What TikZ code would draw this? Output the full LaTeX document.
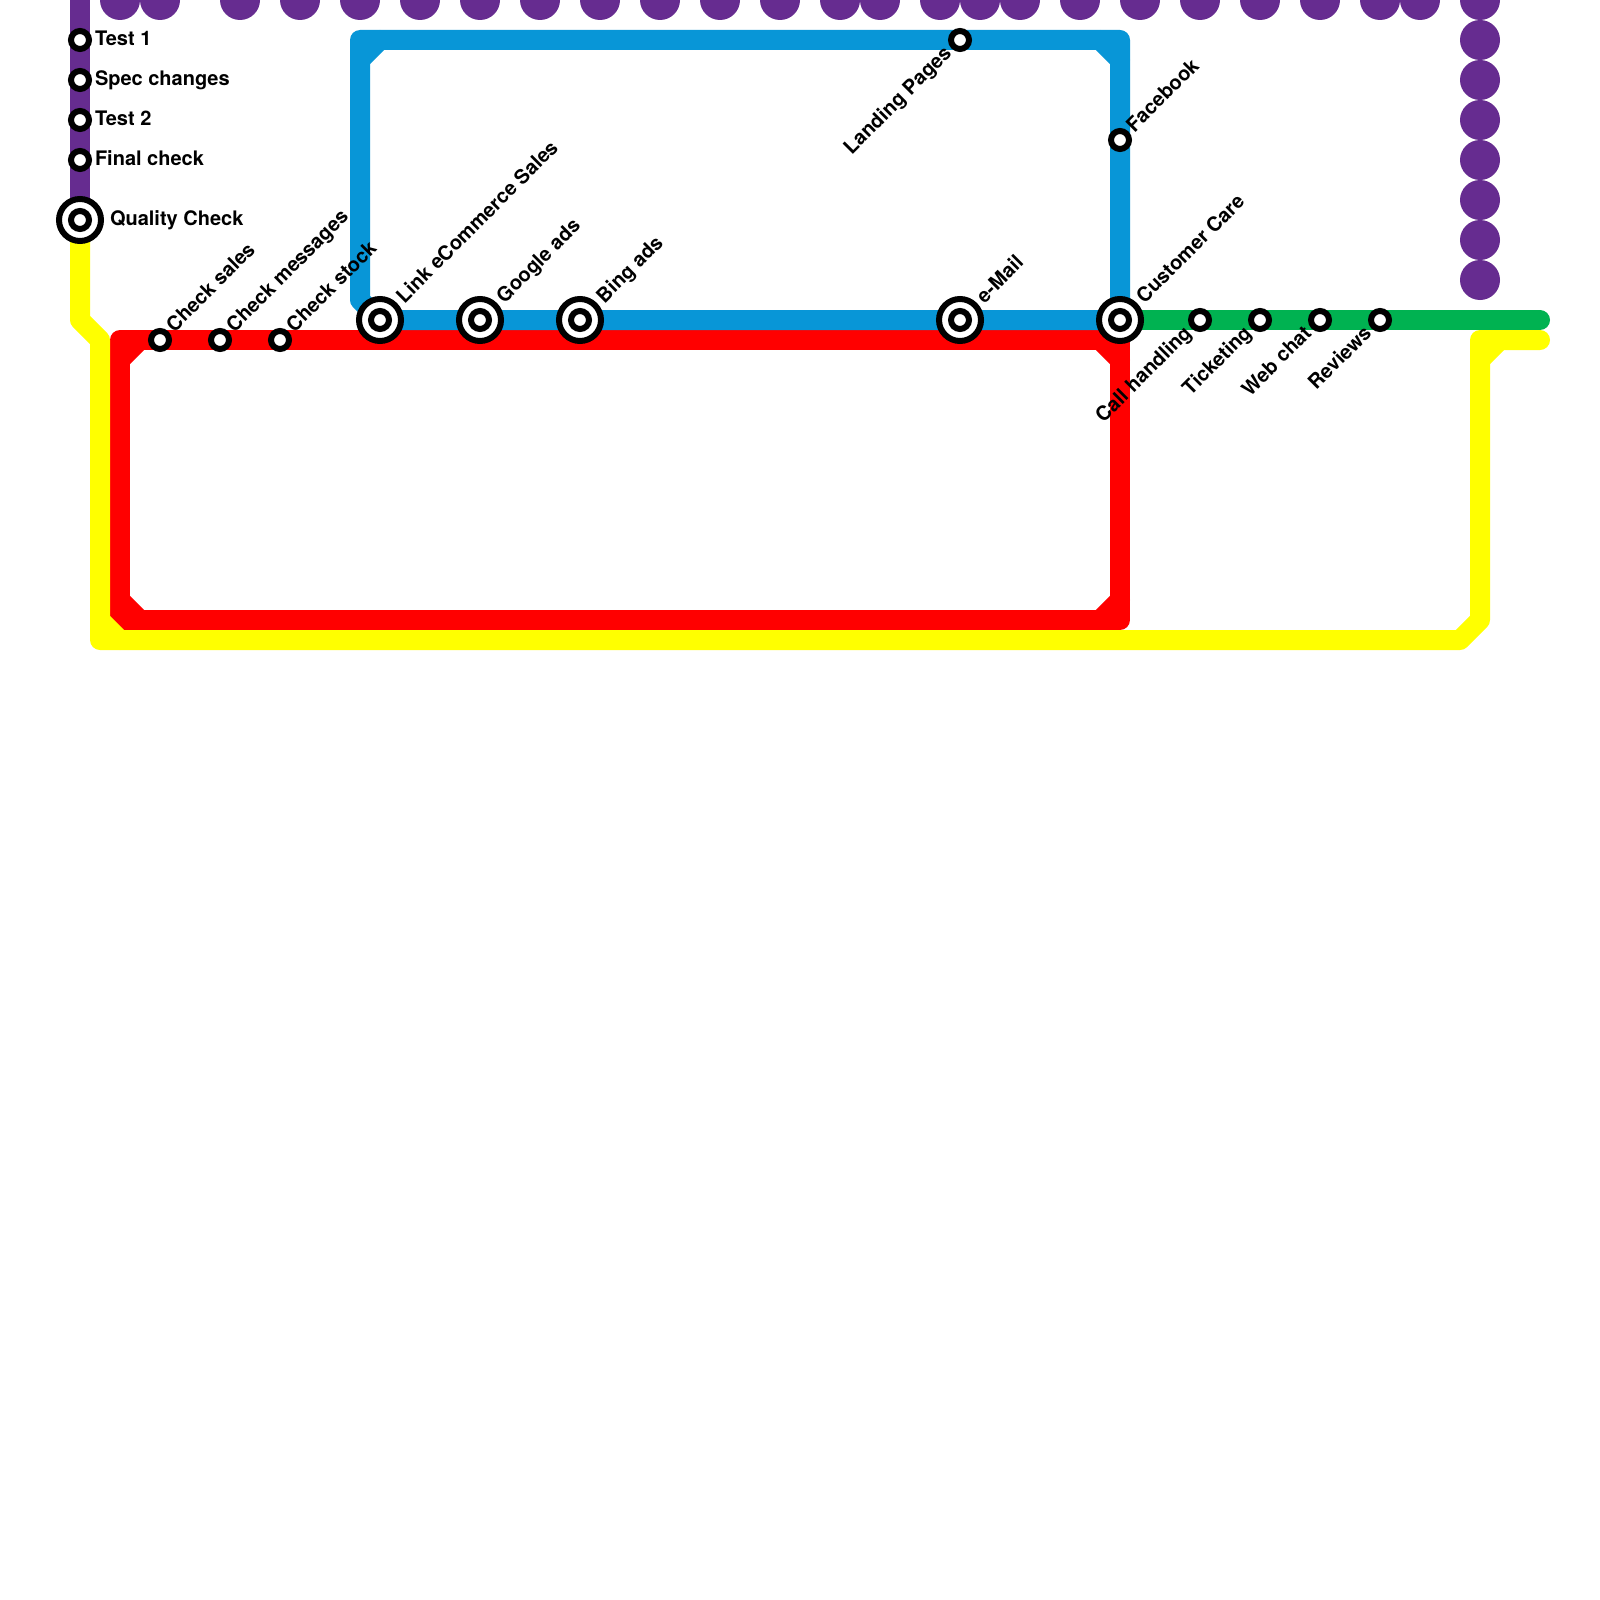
\documentclass[tikz,border=0pt]{standalone}
\usepackage{fontspec}
\setmainfont{TeX Gyre Heros}
\definecolor{lpurple}{HTML}{662C90}
\definecolor{lblue}{HTML}{0896D7}
\definecolor{lred}{HTML}{FF0000}
\definecolor{lyellow}{HTML}{FFFF00}
\definecolor{lgreen}{HTML}{00B251}
\tikzset{
  metro/.style={line width=20pt,line join=round,line cap=round},
  flatend/.style={line width=20pt,line join=round,line cap=butt},
  dotp/.style={circle,fill=lpurple,draw=none,minimum size=40pt,inner sep=0pt,outer sep=0pt},
  stn/.style={circle,fill=white,draw=black,line width=6pt,minimum size=18pt,inner sep=0pt,outer sep=0pt},
  hubouter/.style={circle,fill=white,draw=black,line width=6pt,minimum size=42pt,inner sep=0pt,outer sep=0pt},
  lab/.style={font=\fontsize{20pt}{20pt}\selectfont\bfseries,inner sep=0pt,outer sep=0pt,text=black},
  labr/.style={lab,anchor=base west},
  labup/.style={lab,anchor=base west,rotate=45},
  labdown/.style={lab,anchor=base east,rotate=45}
}
\newcommand{\hubstn}[2]{%
  \node[hubouter] (#1o) at (#2) {};
  \node[stn] (#1) at (#2) {};
}
\begin{document}
\begin{tikzpicture}[x=1pt,y=-1pt]
\useasboundingbox (0,0) rectangle (1600,1600);
\fill[white] (0,0) rectangle (1600,1600);
\clip (0,0) rectangle (1600,1600);
% bends
\coordinate (ptop) at (80,-20);
\coordinate (qc) at (80,220);
\coordinate (y1) at (80,320);
\coordinate (y2) at (100,340);
\coordinate (y3) at (100,640);
\coordinate (y3a) at (100,620);
\coordinate (y3b) at (120,640);
\coordinate (y4) at (1460,640);
\coordinate (y5) at (1480,620);
\coordinate (y6) at (1480,340);
\coordinate (y6a) at (1480,360);
\coordinate (y6b) at (1500,340);
\coordinate (y7) at (1540,340);
\coordinate (r1) at (120,340);
\coordinate (r1a) at (120,360);
\coordinate (r1b) at (140,340);
\coordinate (r2) at (1120,340);
\coordinate (r2a) at (1100,340);
\coordinate (r2b) at (1120,360);
\coordinate (r3) at (1120,620);
\coordinate (r3a) at (1120,600);
\coordinate (r3b) at (1100,620);
\coordinate (r4) at (120,620);
\coordinate (r4a) at (120,600);
\coordinate (r4b) at (140,620);
\coordinate (b1) at (360,300);
\coordinate (b2) at (380,320);
\coordinate (b3) at (1120,320);
\coordinate (b4) at (1120,40);
\coordinate (b4a) at (1100,40);
\coordinate (b4b) at (1120,60);
\coordinate (b5) at (360,40);
\coordinate (b5a) at (360,60);
\coordinate (b5b) at (380,40);
\coordinate (g1) at (1540,320);
% purple dots
\foreach \x in {120,160,240,300,360,420,480,540,600,660,720,780,840,880,940,980,1020,1080,1140,1200,1260,1320,1380,1420,1480}
  \node[dotp] (dt\x) at (\x,0) {};
\foreach \y in {40,80,120,160,200,240,280}
  \node[dotp] (dr\y) at (1480,\y) {};
% lines
\draw[flatend,lpurple] (ptop) -- (qc);
\draw[metro,lred] (r1) -- (r2) -- (r3) -- (r4) -- cycle;
\draw[metro,lred] (r1a) -- (r1b);
\draw[metro,lred] (r2a) -- (r2b);
\draw[metro,lred] (r3a) -- (r3b);
\draw[metro,lred] (r4a) -- (r4b);
\draw[metro,lblue] (b1) -- (b2) -- (b3) -- (b4) -- (b5) -- cycle;
\draw[metro,lblue] (b4a) -- (b4b);
\draw[metro,lblue] (b5a) -- (b5b);
\draw[metro,lgreen] (b3) -- (g1);
\draw[metro,lyellow] (qc) -- (y1) -- (y2) -- (y3) -- (y4) -- (y5) -- (y6) -- (y7);
\draw[metro,lyellow] (y3a) -- (y3b);
\draw[metro,lyellow] (y6a) -- (y6b);
% stations
\node[stn] (t1) at (80,40) {};
\node[stn] (sc) at (80,80) {};
\node[stn] (t2) at (80,120) {};
\node[stn] (fc) at (80,160) {};
\node[stn] (cs) at (160,340) {};
\node[stn] (cm) at (220,340) {};
\node[stn] (ck) at (280,340) {};
\node[stn] (lp) at (960,40) {};
\node[stn] (fb) at (1120,140) {};
\node[stn] (ch) at (1200,320) {};
\node[stn] (tk) at (1260,320) {};
\node[stn] (wc) at (1320,320) {};
\node[stn] (rv) at (1380,320) {};
\hubstn{qch}{80,220}
\hubstn{le}{380,320}
\hubstn{ga}{480,320}
\hubstn{ba}{580,320}
\hubstn{em}{960,320}
\hubstn{cc}{1120,320}
% labels
\node[labr] (lt1) at (95,45.5) {Test 1};
\node[labr] (lsc) at (95,85.5) {Spec changes};
\node[labr] (lt2) at (95,125.5) {Test 2};
\node[labr] (lfc) at (95,165.5) {Final check};
\node[labr] (lqc) at (110,225.5) {Quality Check};
\node[labup] (lcs) at (174.5,333) {Check sales};
\node[labup] (lcm) at (234.5,333) {Check messages};
\node[labup] (lck) at (294.5,333) {Check stock};
\node[labup] (lle) at (404.5,304) {Link eCommerce Sales};
\node[labup] (lga) at (504.5,304) {Google ads};
\node[labup] (lba) at (604.5,304) {Bing ads};
\node[labup] (lem) at (984.5,304) {e-Mail};
\node[labup] (lcc) at (1144.5,304) {Customer Care};
\node[labup] (lfb) at (1134.5,133) {Facebook};
\node[labdown] (llp) at (952.5,54.5) {Landing Pages};
\node[labdown] (lch) at (1192.5,334.5) {Call handling};
\node[labdown] (ltk) at (1252.5,334.5) {Ticketing};
\node[labdown] (lwc) at (1312.5,334.5) {Web chat};
\node[labdown] (lrv) at (1372.5,334.5) {Reviews};
\end{tikzpicture}
\end{document}
